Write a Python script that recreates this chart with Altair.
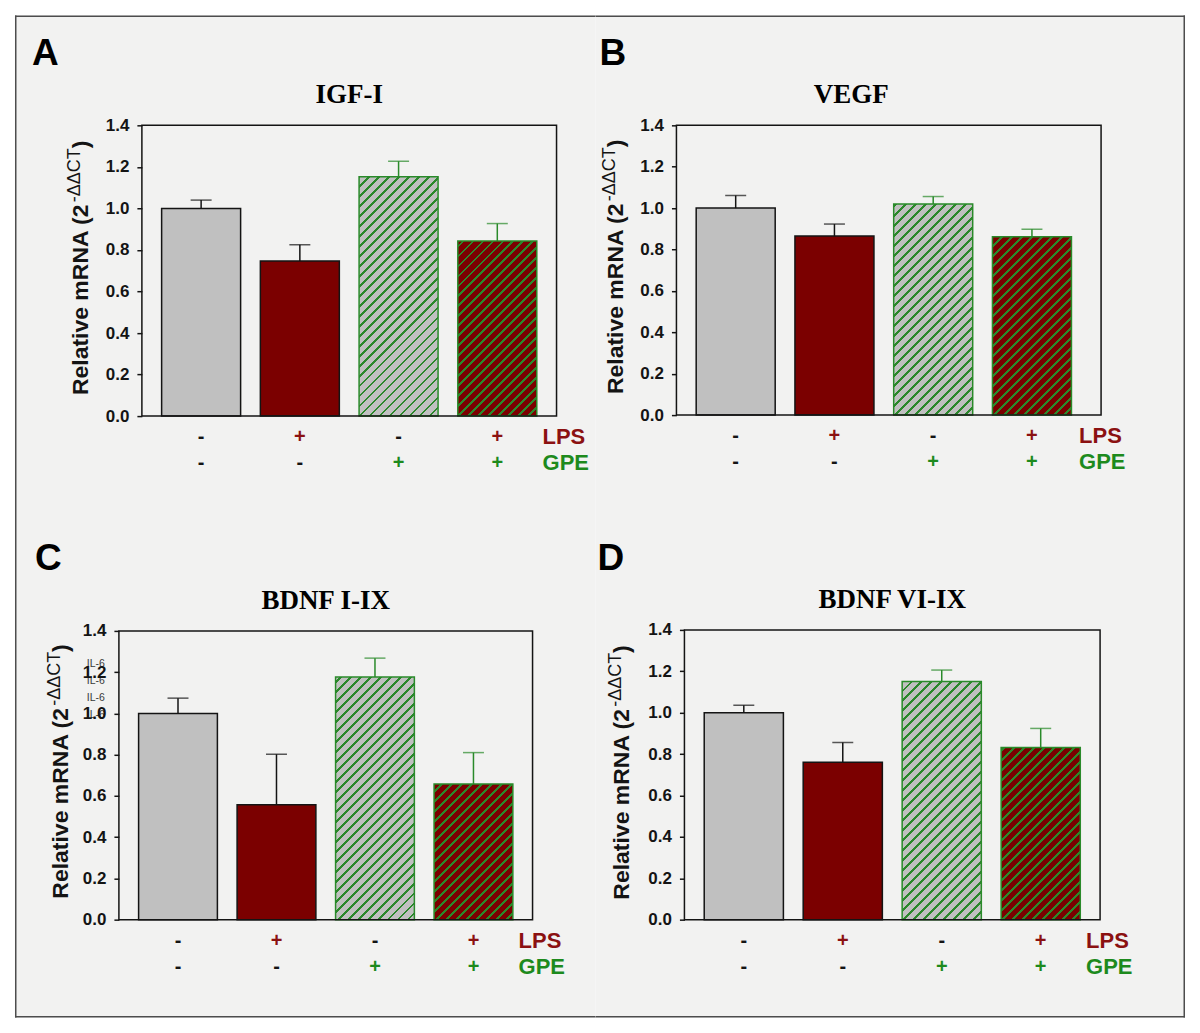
import altair as alt
import pandas as pd

# ---------------- data ----------------
groups = ["Control", "LPS", "GPE", "LPS+GPE"]
lps_signs = ["-", "+", "-", "+"]
gpe_signs = ["-", "-", "+", "+"]

panel_keys = ["A", "B", "C", "D"]
panel_titles = ["IGF-I", "VEGF", "BDNF I-IX", "BDNF VI-IX"]

igf_mean = [1.00, 0.747, 1.152, 0.843]
igf_err = [0.040, 0.078, 0.075, 0.084]
vegf_mean = [1.00, 0.865, 1.020, 0.862]
vegf_err = [0.061, 0.058, 0.036, 0.036]
bdnf19_mean = [1.00, 0.557, 1.176, 0.658]
bdnf19_err = [0.074, 0.245, 0.092, 0.152]
bdnf69_mean = [1.00, 0.761, 1.151, 0.832]
bdnf69_err = [0.036, 0.095, 0.055, 0.092]

means = [igf_mean, vegf_mean, bdnf19_mean, bdnf69_mean]
errs = [igf_err, vegf_err, bdnf19_err, bdnf69_err]

yticks = [0.0, 0.2, 0.4, 0.6, 0.8, 1.0, 1.2, 1.4]
il6_labels = ["IL-6", "IL-6", "IL-6", "IL-6"]

# ---------------- style ----------------
SANS = "Liberation Sans"
SERIF = "Liberation Serif"
BG = "#f2f2f1"
BORDER = "#4d4d4d"
GRAY = "#c0c0c0"
RED = "#7b0000"
GREEN = "#2a8a2a"
HATCH = "#2b882b"
TXT_RED = "#8b1111"
TXT_GREEN = "#1d8a1d"
BLACK = "#141414"
YMAX = 1.4
BW = 1.5       # outer border width
PERIOD = 10.0  # hatch period (px, along x+y)
SLICE = 40.0   # hatch slice height (px), a multiple of PERIOD

# each panel view = one cell of the figure; plot area placed inside it
# cell: (x0, x1, y0, y1) relative to the plot area's top-left corner
LAYOUT = [
    dict(w=415, h=291, cell=(-127, 454, -110, 395), borders=["top", "left"],
         xscale=dict(paddingInner=0.2, paddingOuter=0.2), tcx=207.5, ytx=-54, yty=270,
         letter=(-110, -60), lab_x=401),
    dict(w=425, h=290, cell=(-81, 509, -110, 395), borders=["top", "right"],
         xscale=dict(paddingInner=0.2, paddingOuter=0.25, align=0.4), tcx=175, ytx=-53, yty=269,
         letter=(-77, -60), lab_x=403),
    dict(w=414, h=289, cell=(-104, 477, -111, 387), borders=["left", "bottom"],
         xscale=dict(paddingInner=0.2, paddingOuter=0.2), tcx=207, ytx=-51, yty=268,
         letter=(-84, -61), lab_x=400),
    dict(w=416, h=290, cell=(-89, 501, -110, 388), borders=["right", "bottom"],
         xscale=dict(paddingInner=0.2, paddingOuter=0.2), tcx=208, ytx=-55, yty=270,
         letter=(-87, -60), lab_x=402),
]


def hatch_gradient(base, wpx, hpx, y0px, period=PERIOD, lw=2.8):
    """45-degree '/' stripes for a rect of wpx x hpx whose top is at y0px."""
    L = wpx + hpx
    k = L / (wpx ** 2 + hpx ** 2)

    def off(v):
        return round(min(max(v / L, 0.0), 1.0), 5)

    pos = round(((-y0px) % period), 4) - period
    stops = []
    while pos < L:
        a, b, c = off(pos), off(pos + lw), off(pos + period)
        stops += [
            {"offset": a, "color": HATCH},
            {"offset": b, "color": HATCH},
            {"offset": b, "color": base},
            {"offset": c, "color": base},
        ]
        pos += period
    return {"gradient": "linear", "x1": 0, "y1": 0,
            "x2": round(wpx * k, 6), "y2": round(hpx * k, 6), "stops": stops}


one = pd.DataFrame({"k": [0]})


def make_panel(i):
    L = LAYOUT[i]
    w, h = L["w"], L["h"]
    cx0, cx1, cy0, cy1 = L["cell"]
    ox, oy = -cx0, -cy0                 # plot origin inside the cell view
    CW, CH = cx1 - cx0, cy1 - cy0       # cell view size

    def VX(v):
        return alt.value(v + ox)

    def VY(v):
        return alt.value(v + oy)

    def vtext(text, x, y, **kw):
        return alt.Chart(one).mark_text(text=text, **kw).encode(x=VX(x), y=VY(y))

    def band(x0, x1, y0, y1, color):
        return alt.Chart(one).mark_rect(fill=color, strokeWidth=0).encode(
            x=alt.value(x0), x2=alt.value(x1), y=alt.value(y0), y2=alt.value(y1))

    m, e = means[i], errs[i]
    df = pd.DataFrame({
        "group": groups,
        "value": m,
        "upper": [a + b for a, b in zip(m, e)],
        "fill": [GRAY, RED, GRAY, RED],
        "ecol": [BLACK, BLACK, GREEN, GREEN],
        "lps": lps_signs,
        "gpe": gpe_signs,
        "lpscol": [BLACK if s == "-" else TXT_RED for s in lps_signs],
        "gpecol": [BLACK if s == "-" else TXT_GREEN for s in gpe_signs],
    })
    xs = L["xscale"]
    xenc = alt.X("group:N", axis=None,
                 scale=alt.Scale(domain=groups, range=[ox, ox + w], **xs))
    yaxis = alt.Axis(values=yticks, format=".1f", domain=False, ticks=True, tickSize=5,
                     tickWidth=1.5, tickColor=BLACK, labelFont=SANS, labelFontSize=17,
                     labelFontWeight="bold", labelColor=BLACK, labelPadding=8, title=None,
                     grid=False, zindex=1, offset=-ox)
    yscale = alt.Scale(domain=[0, YMAX], nice=False, zero=True, range=[oy + h, oy])

    layers = [band(0, CW, 0, CH, BG)]
    for b in L["borders"]:
        if b == "top":
            layers.append(band(0, CW, 0, BW, BORDER))
        elif b == "bottom":
            layers.append(band(0, CW, CH - BW, CH, BORDER))
        elif b == "left":
            layers.append(band(0, BW, 0, CH, BORDER))
        else:
            layers.append(band(CW - BW, CW, 0, CH, BORDER))

    # plain bars
    layers.append(alt.Chart(df).transform_filter(
        "datum.group == 'Control' || datum.group == 'LPS'"
    ).mark_bar(stroke=BLACK, strokeWidth=1.5).encode(
        x=xenc, y=alt.Y("value:Q", scale=yscale, axis=yaxis),
        fill=alt.Fill("fill:N", scale=None)))

    # hatched bars: the fill is split into slices, each with a striped gradient
    pi, po = xs["paddingInner"], xs["paddingOuter"]
    step = w / (4 - pi + 2 * po)
    wbar = step * (1 - pi)
    rows = []
    for j in (2, 3):
        base = GRAY if j == 2 else RED
        vpx = m[j] / YMAX * h
        segs = [(0.0, min(SLICE, vpx))]
        kk = 1
        while SLICE * kk < vpx - 0.5:
            segs.append((SLICE * kk - 1.0, min(SLICE * kk + SLICE, vpx)))
            kk += 1
        for lo_px, hi_px in segs:
            rows.append({"group": groups[j],
                         "lo": lo_px / h * YMAX, "hi": hi_px / h * YMAX,
                         "grad": hatch_gradient(base, wbar, hi_px - lo_px, h - hi_px)})
    layers.append(alt.Chart(alt.Data(values=rows)).mark_bar(strokeWidth=0).encode(
        x=xenc, y=alt.Y("hi:Q", scale=yscale, axis=yaxis), y2="lo:Q",
        fill=alt.Fill("grad:N", scale=None)))
    layers.append(alt.Chart(df).transform_filter(
        "datum.group == 'GPE' || datum.group == 'LPS+GPE'"
    ).mark_bar(fillOpacity=0, stroke=GREEN, strokeWidth=1.5).encode(
        x=xenc, y=alt.Y("value:Q", scale=yscale, axis=yaxis)))

    # error bars (upper only)
    layers.append(alt.Chart(df).mark_rule(strokeWidth=1.5).encode(
        x=xenc, y=alt.Y("value:Q", scale=yscale, axis=yaxis), y2="upper:Q",
        color=alt.Color("ecol:N", scale=None)))
    layers.append(alt.Chart(df).mark_tick(thickness=1.5, size=21).encode(
        x=xenc, y=alt.Y("upper:Q", scale=yscale, axis=yaxis),
        color=alt.Color("ecol:N", scale=None)))

    # plot frame
    layers.append(alt.Chart(one).mark_rect(fillOpacity=0, stroke=BLACK, strokeWidth=1.5).encode(
        x=VX(0), x2=VX(w), y=VY(0), y2=VY(h)))

    # treatment rows
    layers.append(alt.Chart(df).mark_text(font=SANS, fontSize=20, fontWeight="bold",
                                          baseline="middle").encode(
        x=xenc, y=VY(h + 21), text="lps:N", color=alt.Color("lpscol:N", scale=None)))
    layers.append(alt.Chart(df).mark_text(font=SANS, fontSize=20, fontWeight="bold",
                                          baseline="middle").encode(
        x=xenc, y=VY(h + 47), text="gpe:N", color=alt.Color("gpecol:N", scale=None)))
    layers.append(vtext("LPS", L["lab_x"], h + 21, font=SANS, fontSize=22, fontWeight="bold",
                        align="left", baseline="middle", color=TXT_RED))
    layers.append(vtext("GPE", L["lab_x"], h + 47, font=SANS, fontSize=22, fontWeight="bold",
                        align="left", baseline="middle", color=TXT_GREEN))

    # titles
    layers.append(vtext(panel_titles[i], L["tcx"], -22, font=SERIF, fontSize=27, fontWeight="bold",
                        align="center", baseline="alphabetic", color="#000000"))
    lx, ly = L["letter"]
    layers.append(vtext(panel_keys[i], lx, ly, font=SANS, fontSize=37, fontWeight="bold",
                        align="left", baseline="alphabetic", color="#000000"))

    # y-axis title with superscript
    ytx, yty = L["ytx"], L["yty"]
    main_len = 192
    sup_len = 54
    layers.append(vtext("Relative mRNA (2", ytx, yty, font=SANS, fontSize=23, fontWeight="bold",
                        angle=270, align="left", baseline="alphabetic", color=BLACK))
    layers.append(vtext("-\u0394\u0394CT", ytx - 8, yty - main_len - 1, font=SANS, fontSize=18,
                        angle=270, align="left", baseline="alphabetic", color=BLACK))
    layers.append(vtext(")", ytx, yty - main_len - sup_len - 1, font=SANS, fontSize=23,
                        fontWeight="bold", angle=270, align="left", baseline="alphabetic",
                        color=BLACK))

    if i == 2:
        for k, yy in enumerate([33, 50, 67, 84]):
            layers.append(vtext(il6_labels[k], -14, yy, font=SANS, fontSize=10.5, align="right",
                                baseline="middle", color="#3a3a3a"))

    return alt.layer(*layers).properties(width=CW, height=CH)


row1 = alt.hconcat(make_panel(0), make_panel(1), spacing=0)
row2 = alt.hconcat(make_panel(2), make_panel(3), spacing=0)
chart = alt.vconcat(row1, row2, spacing=0).properties(
    padding={"left": 7, "top": 7, "right": 7, "bottom": 7}
).configure_view(strokeWidth=0).configure_concat(spacing=0)

chart.save("out.html", embed_options={"renderer": "svg", "actions": False})
